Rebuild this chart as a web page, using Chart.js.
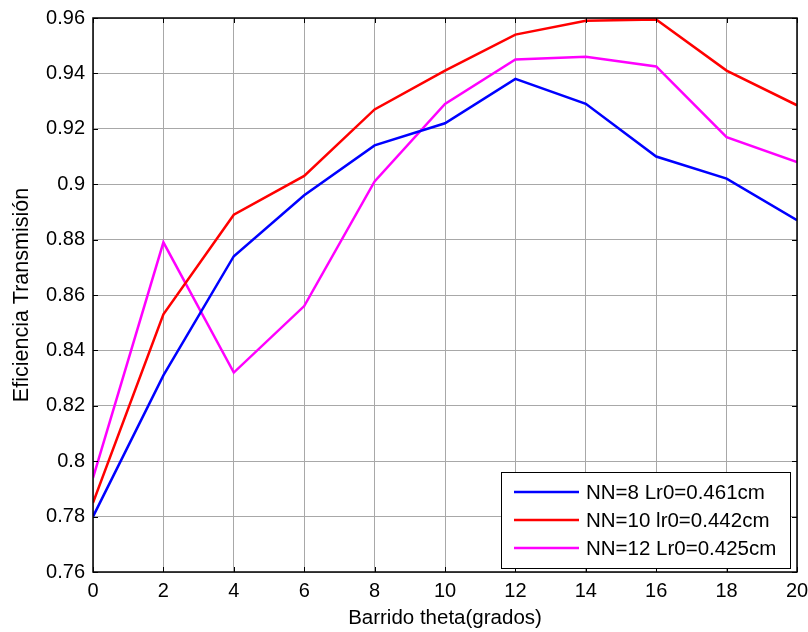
<!DOCTYPE html>
<html><head><meta charset="utf-8">
<script src="https://cdn.jsdelivr.net/npm/chart.js@4"></script>
<style>html,body{margin:0;padding:0;background:#fff}canvas{display:block}</style>
</head><body>
<canvas id="c" width="808" height="632"></canvas>
<script>
const theta = [0, 2, 4, 6, 8, 10, 12, 14, 16, 18, 20];
const nn8 = [0.780, 0.831, 0.874, 0.896, 0.914, 0.922, 0.938, 0.929, 0.910, 0.902, 0.887];
const nn10 = [0.785, 0.853, 0.889, 0.903, 0.927, 0.941, 0.954, 0.959, 0.9595, 0.941, 0.9285];
const nn12 = [0.794, 0.879, 0.832, 0.856, 0.901, 0.929, 0.945, 0.946, 0.9425, 0.917, 0.908];
const seriesLabels = ["NN=8 Lr0=0.461cm", "NN=10 lr0=0.442cm", "NN=12 Lr0=0.425cm"];
const seriesColors = ["#0000ff", "#ff0000", "#ff00ff"];
const xTitle = "Barrido theta(grados)";
const yTitle = "Eficiencia Transmisión";

const FONT = "Arial, 'Liberation Sans', sans-serif";
const FS = 20;
const series = [nn8, nn10, nn12];
const datasets = series.map((vals, i) => ({
  label: seriesLabels[i],
  data: theta.map((t, j) => ({x: t, y: vals[j]})),
  borderColor: seriesColors[i],
  backgroundColor: seriesColors[i],
  borderWidth: 2.5,
  pointRadius: 0,
  tension: 0,
  fill: false
}));

const frame = {
  id: 'frame',
  afterDraw(chart) {
    const ctx = chart.ctx, a = chart.chartArea;
    const xs = chart.scales.x, ys = chart.scales.y;
    ctx.save();
    ctx.strokeStyle = '#000';
    ctx.lineWidth = 1;
    const L = 5;
    ctx.beginPath();
    xs.ticks.forEach(t => {
      const px = Math.round(xs.getPixelForValue(t.value)) + 0.5;
      ctx.moveTo(px, a.bottom); ctx.lineTo(px, a.bottom - L);
      ctx.moveTo(px, a.top); ctx.lineTo(px, a.top + L);
    });
    ys.ticks.forEach(t => {
      const py = Math.round(ys.getPixelForValue(t.value)) + 0.5;
      ctx.moveTo(a.left, py); ctx.lineTo(a.left + L, py);
      ctx.moveTo(a.right, py); ctx.lineTo(a.right - L, py);
    });
    ctx.stroke();
    ctx.lineWidth = 1.5;
    ctx.strokeRect(a.left, a.top, a.right - a.left, a.bottom - a.top);

    // legend box
    const bx = 501, by = 472, bw = 289, bh = 96;
    ctx.fillStyle = '#fff';
    ctx.fillRect(bx, by, bw, bh);
    ctx.lineWidth = 1;
    ctx.strokeStyle = '#000';
    ctx.strokeRect(bx + 0.5, by + 0.5, bw, bh);
    ctx.font = '20.5px ' + FONT;
    ctx.textBaseline = 'middle';
    ctx.textAlign = 'left';
    chart.data.datasets.forEach((d, i) => {
      const y = by + 20 + i * 28;
      ctx.strokeStyle = d.borderColor;
      ctx.lineWidth = 2.5;
      ctx.beginPath(); ctx.moveTo(514, y); ctx.lineTo(579, y); ctx.stroke();
      ctx.fillStyle = '#000';
      ctx.fillText(d.label, 586, y + 1);
    });
    ctx.restore();
  }
};

new Chart(document.getElementById('c'), {
  type: 'line',
  data: { datasets },
  options: {
    responsive: false,
    animation: false,
    layout: { padding: { top: 18, right: 11, left: 0, bottom: 0 } },
    plugins: { legend: { display: false }, tooltip: { enabled: false } },
    scales: {
      x: {
        type: 'linear', min: 0, max: 20,
        ticks: { stepSize: 2, color: '#000', font: { family: FONT, size: FS }, padding: 7, maxRotation: 0 },
        grid: { color: '#a8a8a8', lineWidth: 1, drawTicks: false },
        border: { display: false },
        title: { display: true, text: xTitle, color: '#000', font: { family: FONT, size: 20.5 }, padding: { top: 4, bottom: 1 } },
        afterFit(s) { s.height = 60; s.paddingLeft = 0; s.paddingRight = 0; }
      },
      y: {
        min: 0.76, max: 0.96,
        ticks: { stepSize: 0.02, color: '#000', font: { family: FONT, size: FS }, padding: 8,
          callback: v => String(Number(v.toFixed(2))) },
        grid: { color: '#a8a8a8', lineWidth: 1, drawTicks: false },
        border: { display: false },
        title: { display: true, text: yTitle, color: '#000', font: { family: FONT, size: 21.5 }, padding: { top: 9, bottom: 4 } },
        afterFit(s) { s.width = 93; s.paddingTop = 0; s.paddingBottom = 0; }
      }
    }
  },
  plugins: [frame]
});
</script>
</body></html>
